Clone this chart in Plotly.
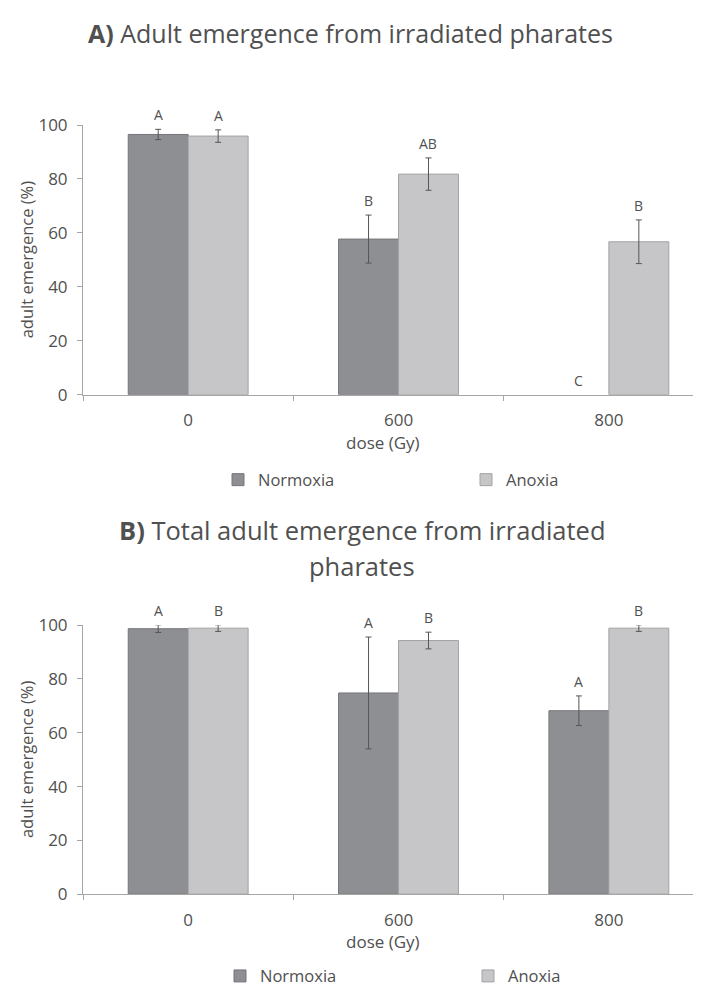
import plotly.graph_objects as go

W, H = 701, 995

doses = ["0", "600", "800"]
series = ["Normoxia", "Anoxia"]

# Panel A: adult emergence (%)
a_normoxia = [96.5, 57.7, 0.0]
a_normoxia_err = [1.9, 8.9, 0.0]
a_anoxia = [95.9, 81.8, 56.7]
a_anoxia_err = [2.3, 6.0, 8.1]
a_norm_letters = ["A", "B", "C"]
a_anox_letters = ["A", "AB", "B"]

# Panel B: total adult emergence (%)
b_normoxia = [98.7, 74.8, 68.2]
b_normoxia_err = [1.4, 20.8, 5.5]
b_anoxia = [98.9, 94.3, 98.9]
b_anoxia_err = [1.2, 3.1, 1.2]
b_norm_letters = ["A", "A", "A"]
b_anox_letters = ["B", "B", "B"]

title_a = "<b>A)</b> Adult emergence from irradiated pharates"
title_b1 = "<b>B)</b> Total adult emergence from irradiated"
title_b2 = "pharates"
y_title = "adult emergence (%)"
x_title = "dose (Gy)"

FONT = "Open Sans"
TXT = "#505050"
C_NORM = "#8e8f93"
C_ANOX = "#c6c6c8"
E_NORM = "#76777b"
E_ANOX = "#a3a3a5"
AXC = "#a6a6a6"
BARGAP = 0.43
YMAX = 100

def py(px):
    return 1 - px / H

def px_x(px):
    return px / W

fig = go.Figure()

panels = [
    dict(xa="x", ya="y", leg="legend", top=115.7, bot=391.7,
         n=a_normoxia, ne=a_normoxia_err, a=a_anoxia, ae=a_anoxia_err,
         nl=a_norm_letters, al=a_anox_letters),
    dict(xa="x2", ya="y2", leg="legend2", top=627.7, bot=903,
         n=b_normoxia, ne=b_normoxia_err, a=b_anoxia, ae=b_anoxia_err,
         nl=b_norm_letters, al=b_anox_letters),
]

def nonzero(vals, errs):
    keep = [i for i in range(len(doses)) if vals[i] > 0 or errs[i] > 0]
    return ([doses[i] for i in keep], [vals[i] for i in keep], [errs[i] for i in keep])

annotations = []
for p in panels:
    for name, vals, errs, col, edge, extra in (
            (series[0], p["n"], p["ne"], C_NORM, E_NORM, dict(legendwidth=203)),
            (series[1], p["a"], p["ae"], C_ANOX, E_ANOX, {})):
        xs, ys, es = nonzero(vals, errs)
        fig.add_trace(go.Bar(
            x=xs, y=ys, name=name, xaxis=p["xa"], yaxis=p["ya"], legend=p["leg"],
            offsetgroup=name,
            marker=dict(color=col, line=dict(color=edge, width=1)),
            error_y=dict(type="data", array=es, color="#555555", thickness=1, width=3),
            cliponaxis=False, hoverinfo="skip", **extra))
    off = (1 - BARGAP) / 4
    ppu = (p["bot"] - p["top"]) / YMAX
    for i in range(len(doses)):
        for sign, vals, errs, letters in ((-1, p["n"], p["ne"], p["nl"]), (1, p["a"], p["ae"], p["al"])):
            top = vals[i] + errs[i]
            yv = min(top, YMAX)
            annotations.append(dict(
                x=i + sign * off, y=yv, xref=p["xa"], yref=p["ya"],
                text=letters[i], showarrow=False, yanchor="bottom",
                yshift=3 + (top - yv) * ppu,
                font=dict(family=FONT, size=14, color=TXT)))

# titles
annotations.append(dict(x=px_x(350), y=py(22), xref="paper", yref="paper", text=title_a,
                        showarrow=False, xanchor="center", yanchor="middle",
                        font=dict(family=FONT, size=25, color=TXT)))
annotations.append(dict(x=px_x(362), y=py(530), xref="paper", yref="paper", text=title_b1,
                        showarrow=False, xanchor="center", yanchor="middle",
                        font=dict(family=FONT, size=25.5, color=TXT)))
annotations.append(dict(x=px_x(362), y=py(567), xref="paper", yref="paper", text=title_b2,
                        showarrow=False, xanchor="center", yanchor="middle",
                        font=dict(family=FONT, size=25.5, color=TXT)))
# axis titles
for yc, xc in ((253.7, 441), (765.3, 951)):
    annotations.append(dict(x=px_x(26.5), y=py(yc), xref="paper", yref="paper", text=y_title,
                            textangle=-90, showarrow=False, xanchor="center", yanchor="middle",
                            font=dict(family=FONT, size=16.5, color=TXT)))
    annotations.append(dict(x=px_x(383), y=py(xc), xref="paper", yref="paper", text=x_title,
                            showarrow=False, xanchor="center", yanchor="middle",
                            font=dict(family=FONT, size=17, color=TXT)))

xdom = [px_x(83), px_x(693)]
xax = dict(type="category", categoryorder="array", categoryarray=doses,
           range=[-0.5, 2.4], showline=True, linecolor=AXC, linewidth=1,
           ticks="outside", tickson="boundaries", ticklen=5, tickcolor=AXC,
           showgrid=False, zeroline=False, ticklabelstandoff=10,
           tickfont=dict(family=FONT, size=17, color=TXT), domain=xdom, fixedrange=True)
yax = dict(range=[0, YMAX], dtick=20, showline=True, linecolor=AXC, linewidth=1,
           ticks="outside", ticklen=5, tickcolor=AXC, showgrid=False, zeroline=False,
           ticklabelstandoff=6, tickfont=dict(family=FONT, size=17, color=TXT), fixedrange=True)

legfont = dict(family=FONT, size=16.5, color=TXT)
fig.update_layout(
    width=W, height=H, autosize=False,
    margin=dict(l=0, r=0, t=0, b=0),
    paper_bgcolor="white", plot_bgcolor="white",
    barmode="group", bargap=BARGAP, bargroupgap=0,
    xaxis=dict(xax, anchor="y"),
    yaxis=dict(yax, anchor="x", domain=[py(391.7), py(115.7)]),
    xaxis2=dict(xax, anchor="y2"),
    yaxis2=dict(yax, anchor="x2", domain=[py(903), py(627.7)]),
    legend=dict(orientation="h", x=px_x(218), xanchor="left", y=py(479), yanchor="middle",
                font=legfont, bgcolor="rgba(0,0,0,0)", traceorder="normal"),
    legend2=dict(orientation="h", x=px_x(220), xanchor="left", y=py(987), yanchor="middle",
                 font=legfont, bgcolor="rgba(0,0,0,0)", traceorder="normal"),
    annotations=annotations,
    font=dict(family=FONT, color=TXT),
)

fig.write_html("out.html", config={"displayModeBar": False},
               post_script="document.body.style.margin='0';")
